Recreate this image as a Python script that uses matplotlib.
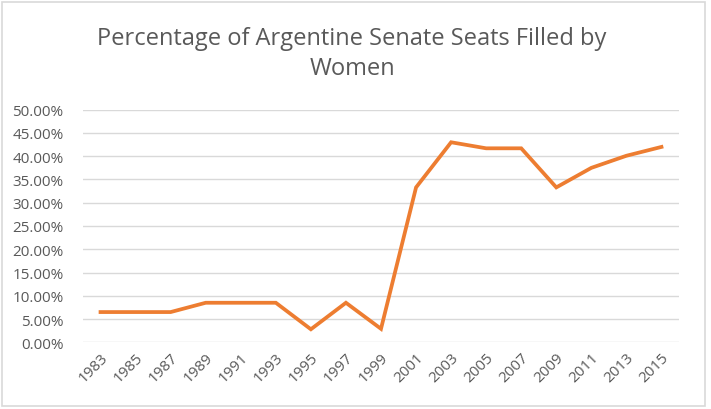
import numpy as np
import matplotlib.pyplot as plt
from matplotlib.patches import Rectangle
from matplotlib.ticker import FuncFormatter

# Data
years = ['1983', '1985', '1987', '1989', '1991', '1993', '1995', '1997', '1999',
         '2001', '2003', '2005', '2007', '2009', '2011', '2013', '2015']
pct_women = [6.5, 6.5, 6.5, 8.5, 8.5, 8.5, 2.8, 8.5, 2.9,
             33.3, 43.0, 41.7, 41.7, 33.3, 37.5, 40.1, 42.0]

grey = '#595959'
plt.rcParams['font.family'] = ['Open Sans', 'DejaVu Sans']

fig = plt.figure(figsize=(7.11, 4.10), dpi=100)
ax = fig.add_axes([83/711, 1 - 343.3/410, (679 - 83)/711, (343.3 - 110.7)/410])

x = np.arange(len(years))
ax.plot(x, pct_women, color='#ED7D31', lw=2.7, solid_joinstyle='miter')

ax.set_xlim(-0.5, len(years) - 0.5)
ax.set_ylim(0, 50)
ax.set_yticks(np.arange(0, 50.1, 5))
ax.yaxis.set_major_formatter(FuncFormatter(lambda v, p: f'{v:.2f}%'))
ax.set_xticks(x)
ax.set_xticklabels(years, rotation=45, ha='right', rotation_mode='anchor')

ax.grid(axis='y', color='#D9D9D9', lw=1)
ax.set_axisbelow(True)
for s in ax.spines.values():
    s.set_visible(False)
ax.tick_params(length=0, colors=grey, labelsize=11)
ax.tick_params(axis='y', pad=14)
ax.tick_params(axis='x', pad=5)

fig.text(352/711, 1 - 54/410, 'Percentage of Argentine Senate Seats Filled by\nWomen',
         ha='center', va='center', fontsize=17, color=grey, linespacing=1.3)

# chart border
fig.patches.append(Rectangle((2/711, 3/410), 703/711, 404/410, transform=fig.transFigure,
                             fill=False, edgecolor='#D9D9D9', lw=1.2))

fig.savefig('out.png', dpi=100)
